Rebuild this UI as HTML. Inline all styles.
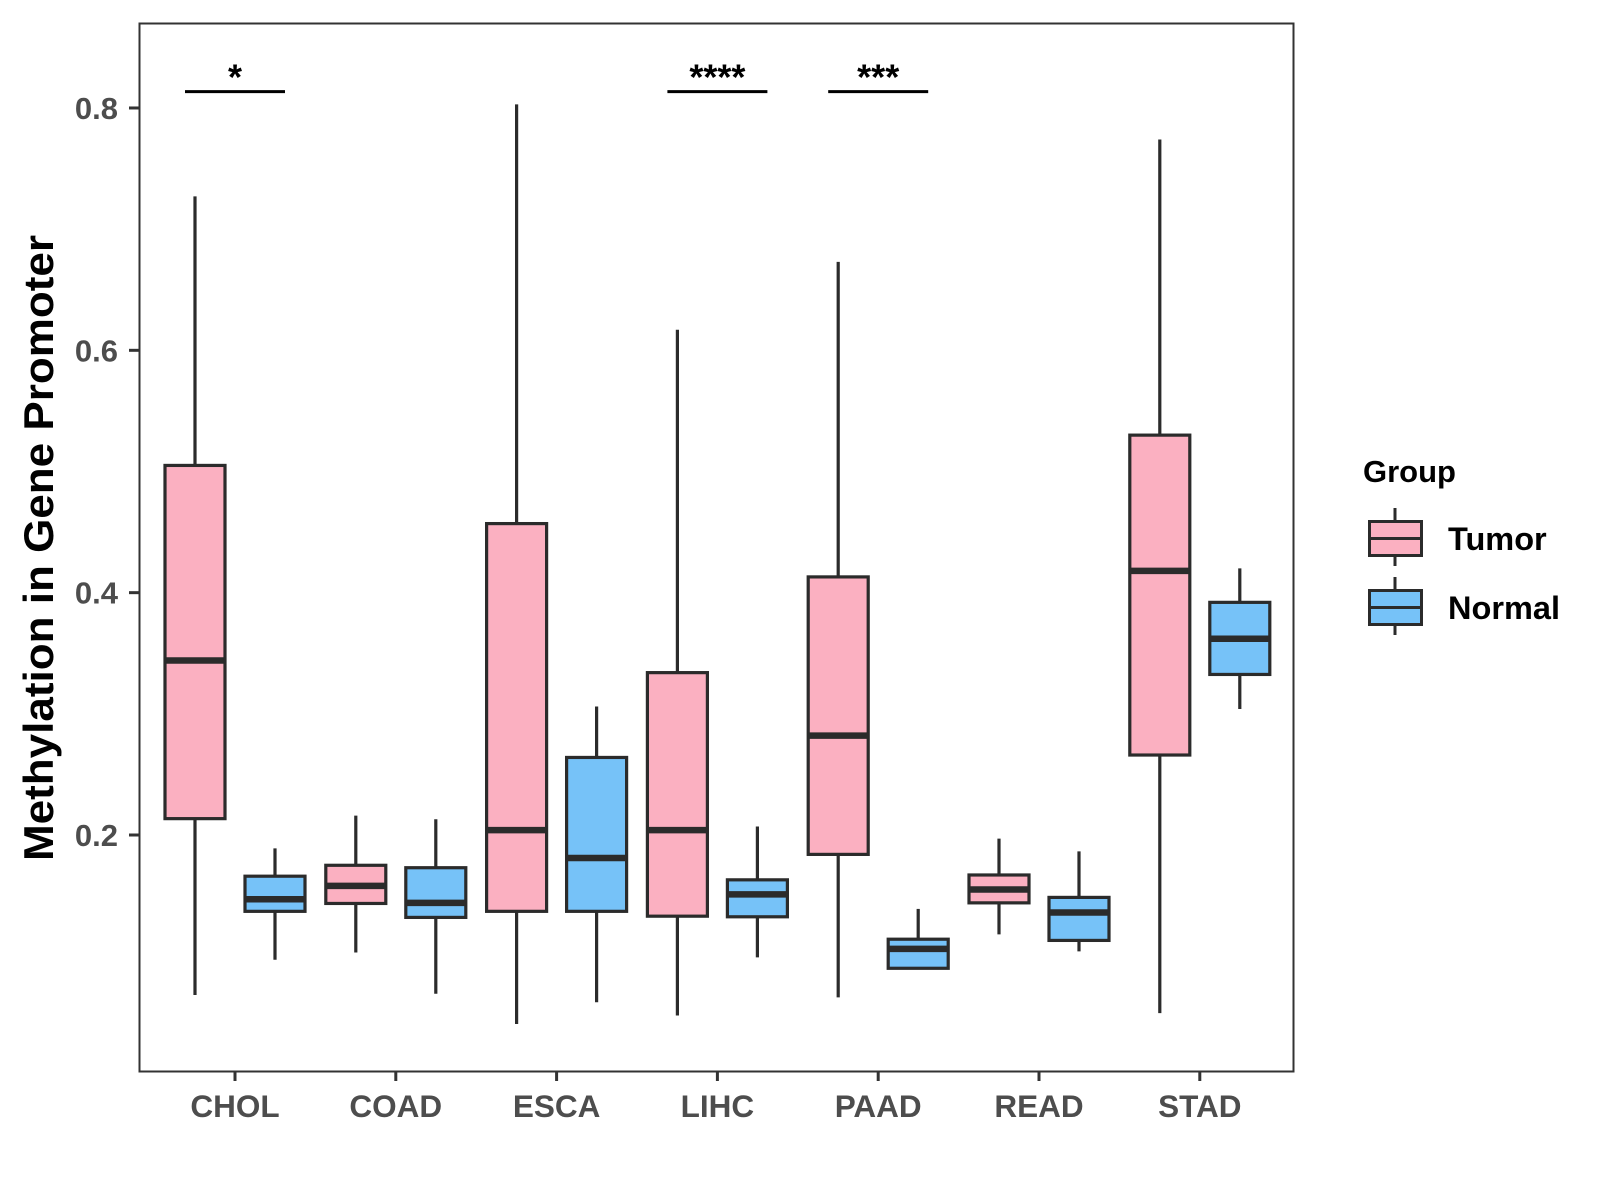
<!DOCTYPE html>
<html><head><meta charset="utf-8"><style>
html,body{margin:0;padding:0;background:#fff}
svg{display:block;font-family:"Liberation Sans",Arial,sans-serif}
</style></head><body>
<svg id="chart" width="1600" height="1200" viewBox="0 0 1600 1200">
<rect x="0" y="0" width="1600" height="1200" fill="#fff"/>
<g id="plot"></g>
<rect x="139.5" y="23.5" width="1154" height="1048" fill="none" stroke="#333" stroke-width="2"/>
<text transform="translate(53,548) rotate(-90)" text-anchor="middle" font-size="42" font-weight="bold" fill="#000" textLength="626" lengthAdjust="spacingAndGlyphs">Methylation in Gene Promoter</text>
<g>
<text x="1363" y="482" font-size="31" font-weight="bold" fill="#000">Group</text>
<g>
<line x1="1395" y1="508" x2="1395" y2="566" stroke="#2b2b2b" stroke-width="3"/>
<rect x="1369.5" y="521.5" width="52" height="34" fill="#FBB0C1" stroke="#2b2b2b" stroke-width="3"/>
<line x1="1369.5" y1="538.5" x2="1421.5" y2="538.5" stroke="#2b2b2b" stroke-width="3"/>
<text x="1448" y="550" font-size="32.5" font-weight="bold" fill="#000">Tumor</text>
</g>
<g>
<line x1="1395" y1="577" x2="1395" y2="635" stroke="#2b2b2b" stroke-width="3"/>
<rect x="1369.5" y="590.5" width="52" height="34" fill="#76C2F8" stroke="#2b2b2b" stroke-width="3"/>
<line x1="1369.5" y1="607.5" x2="1421.5" y2="607.5" stroke="#2b2b2b" stroke-width="3"/>
<text x="1448" y="619" font-size="32.5" font-weight="bold" fill="#000">Normal</text>
</g>
</g>
</svg>
<script>
const categories = ["CHOL","COAD","ESCA","LIHC","PAAD","READ","STAD"];
const tumorLow = [0.068,0.103,0.044,0.051,0.066,0.118,0.053];
const tumorQ1 = [0.2135,0.1435,0.137,0.133,0.184,0.144,0.266];
const tumorMed = [0.344,0.158,0.204,0.204,0.282,0.155,0.418];
const tumorQ3 = [0.505,0.175,0.457,0.334,0.413,0.167,0.530];
const tumorHigh = [0.727,0.216,0.803,0.617,0.673,0.197,0.774];
const normalLow = [0.097,0.069,0.062,0.099,0.089,0.104,0.304];
const normalQ1 = [0.137,0.132,0.137,0.1325,0.090,0.113,0.3325];
const normalMed = [0.147,0.144,0.181,0.151,0.106,0.136,0.362];
const normalQ3 = [0.166,0.173,0.264,0.163,0.114,0.1485,0.392];
const normalHigh = [0.189,0.213,0.306,0.207,0.139,0.1865,0.420];
const yTicks = [0.2,0.4,0.6,0.8];
const yTickLabels = ["0.2","0.4","0.6","0.8"];
const sigCats = ["CHOL","LIHC","PAAD"];
const sigLabels = ["*","****","***"];
const sigLevel = 0.8135;

const NS="http://www.w3.org/2000/svg";
const svg=document.getElementById('chart');
const plot=document.getElementById('plot');
function y(v){return 835-(v-0.2)*1211.7;}
function x(i){return 235+i*160.8;}
function mk(tag,attrs,parent){const e=document.createElementNS(NS,tag);for(const k in attrs)e.setAttribute(k,attrs[k]);(parent||plot).appendChild(e);return e;}
const dark="#2b2b2b";
function box(cx,lo,q1,md,q3,hi,fill,name){
  const g=mk('g',{});
  
  
  mk('line',{x1:cx,x2:cx,y1:y(hi),y2:y(lo),stroke:dark,'stroke-width':3.2},g);
  mk('rect',{x:cx-30,y:y(q3),width:60,height:y(q1)-y(q3),fill:fill,stroke:dark,'stroke-width':3.2},g);
  mk('line',{x1:cx-30,x2:cx+30,y1:y(md),y2:y(md),stroke:dark,'stroke-width':6.5},g);
}
categories.forEach((c,i)=>{
  box(x(i)-40,tumorLow[i],tumorQ1[i],tumorMed[i],tumorQ3[i],tumorHigh[i],"#FBB0C1","box-tumor-"+c.toLowerCase());
  box(x(i)+40,normalLow[i],normalQ1[i],normalMed[i],normalQ3[i],normalHigh[i],"#76C2F8","box-normal-"+c.toLowerCase());
  const t=mk('line',{x1:x(i),x2:x(i),y1:1072,y2:1081,stroke:"#333",'stroke-width':3},svg);
  
  
  const l=mk('text',{x:x(i),y:1117,'text-anchor':'middle','font-size':31.5,'font-weight':'bold',fill:'#4d4d4d'},svg);
  l.textContent=c;
  
  
});
yTicks.forEach((v,i)=>{
  const t=mk('line',{x1:129,x2:139,y1:y(v),y2:y(v),stroke:"#333",'stroke-width':3},svg);
  
  
  const l=mk('text',{x:118,y:y(v)+11,'text-anchor':'end','font-size':31,'font-weight':'bold',fill:'#4d4d4d'},svg);
  l.textContent=yTickLabels[i];
  
  
});
sigCats.forEach((c,k)=>{
  const i=categories.indexOf(c);
  const ln=mk('line',{x1:x(i)-50,x2:x(i)+50,y1:y(sigLevel),y2:y(sigLevel),stroke:'#000','stroke-width':3});
  
  
  const s=mk('text',{x:x(i),y:y(sigLevel)-2,'text-anchor':'middle','font-size':36,'font-weight':'bold',fill:'#000'});
  s.textContent=sigLabels[k];
  
  
});
</script>
</body></html>
